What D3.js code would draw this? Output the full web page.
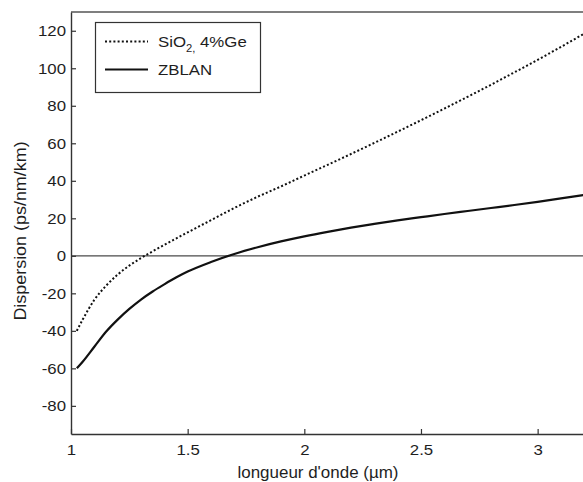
<!DOCTYPE html>
<html>
<head>
<meta charset="utf-8">
<script src="https://cdn.jsdelivr.net/npm/d3@7"></script>
<style>
  body { margin: 0; background: #fff; }
  svg { display: block; }
  text { font-family: "Liberation Sans", Arial, sans-serif; fill: #1e1e1e; }
</style>
</head>
<body>
<svg id="chart" width="583" height="482"></svg>
<script>
// Wavelength grid (µm)
const wavelengths = [1.025, 1.05, 1.1, 1.15, 1.2, 1.25, 1.3, 1.35, 1.4, 1.45, 1.5,
  1.6, 1.7, 1.8, 1.9, 2.0, 2.1, 2.2, 2.3, 2.4, 2.5, 2.6, 2.7, 2.8, 2.9, 3.0, 3.1, 3.2];

// Chromatic dispersion (ps/nm/km)
const sio2Ge = [-40, -34, -23.5, -16, -10, -5.2, -1.2, 2.4, 5.8, 9.2, 12.5,
  19, 25.5, 31.5, 37, 42.8, 48.5, 54.3, 60.2, 66.2, 72.3, 78.5, 84.8, 91.2, 97.8, 104.5, 111.4, 118.5];
const zblan = [-60, -56.5, -48.5, -40.5, -34, -28.3, -23.3, -19, -15.2, -11.6, -8.4,
  -3.3, 1, 4.6, 7.7, 10.4, 12.8, 15, 17, 18.9, 20.6, 22.3, 23.9, 25.5, 27.1, 28.8, 30.6, 32.5];

const xTicks = [1, 1.5, 2, 2.5, 3];
const yTicks = [-80, -60, -40, -20, 0, 20, 40, 60, 80, 100, 120];

const seriesNames = ["SiO\u2082, 4%Ge", "ZBLAN"];

const svg = d3.select("#chart");
const plotLeft = 71, plotRight = 584.3, plotTop = 12, plotBottom = 434;

const x = d3.scaleLinear().domain([1, 3.2]).range([plotLeft, plotRight]);
const y = d3.scaleLinear().domain([-95, 130]).range([plotBottom, plotTop]);

const axisColor = "#333";
const stretch = 1.12;

// widen glyphs slightly, like the original rendering
function widen(sel, k) {
  sel.each(function () {
    const len = this.getComputedTextLength();
    d3.select(this).attr("textLength", len * k).attr("lengthAdjust", "spacingAndGlyphs");
  });
}

// top border of the box
svg.append("line")
  .attr("x1", plotLeft).attr("x2", plotRight).attr("y1", plotTop).attr("y2", plotTop)
  .attr("stroke", "#555").attr("stroke-width", 1.4);

// zero reference line
svg.append("line")
  .attr("x1", plotLeft).attr("x2", plotRight).attr("y1", y(0)).attr("y2", y(0))
  .attr("stroke", "#4a4a4a").attr("stroke-width", 1.3);

// axes
const gx = svg.append("g").attr("transform", `translate(0,${plotBottom})`)
  .call(d3.axisBottom(x).tickValues(xTicks).tickSize(-5).tickSizeOuter(0).tickPadding(10)
    .tickFormat(d => String(d)));
const gy = svg.append("g").attr("transform", `translate(${plotLeft},0)`)
  .call(d3.axisLeft(y).tickValues(yTicks).tickSize(-5).tickSizeOuter(0).tickPadding(5)
    .tickFormat(d => String(d)));

[gx, gy].forEach(g => {
  g.select(".domain").attr("stroke", axisColor).attr("stroke-width", 1.4);
  g.selectAll(".tick line").attr("stroke", axisColor).attr("stroke-width", 1.2);
  g.selectAll(".tick text").attr("font-size", 15).attr("fill", "#1e1e1e")
    .style("font-family", "'Liberation Sans', Arial, sans-serif");
  widen(g.selectAll(".tick text"), stretch);
});

// axis titles
const xTitle = svg.append("text")
  .attr("x", 318).attr("y", 478)
  .attr("text-anchor", "middle").attr("font-size", 16)
  .text("longueur d'onde (\u00b5m)");
widen(xTitle, 1.06);

const yTitle = svg.append("text")
  .attr("transform", "translate(26,231) rotate(-90)")
  .attr("text-anchor", "middle").attr("font-size", 16)
  .text("Dispersion (ps/nm/km)");
widen(yTitle, stretch);

// curves
const line = (vals) => d3.line()
  .x((d, i) => x(wavelengths[i]))
  .y(d => y(d))
  .curve(d3.curveMonotoneX)(vals);

svg.append("path").attr("d", line(sio2Ge))
  .attr("fill", "none").attr("stroke", "#111").attr("stroke-width", 2)
  .attr("stroke-dasharray", "2,2.2");

svg.append("path").attr("d", line(zblan))
  .attr("fill", "none").attr("stroke", "#111").attr("stroke-width", 2.2);

// legend
const lg = svg.append("g");
lg.append("rect").attr("x", 95.5).attr("y", 22.5).attr("width", 165).attr("height", 70)
  .attr("fill", "#fff").attr("stroke", axisColor).attr("stroke-width", 1.2);

lg.append("line").attr("x1", 105).attr("x2", 148).attr("y1", 41.5).attr("y2", 41.5)
  .attr("stroke", "#111").attr("stroke-width", 2).attr("stroke-dasharray", "2,2.2");
lg.append("line").attr("x1", 105).attr("x2", 148).attr("y1", 69.5).attr("y2", 69.5)
  .attr("stroke", "#111").attr("stroke-width", 2.2);

const t1 = lg.append("text").attr("x", 158).attr("y", 47).attr("font-size", 15);
t1.append("tspan").text("SiO");
t1.append("tspan").attr("dy", 5).attr("font-size", 10).text("2,");
t1.append("tspan").attr("dy", -5).text(" 4%Ge");
widen(t1, stretch);

const t2 = lg.append("text").attr("x", 158).attr("y", 75).attr("font-size", 15).text(seriesNames[1]);
widen(t2, stretch);
</script>
</body>
</html>
